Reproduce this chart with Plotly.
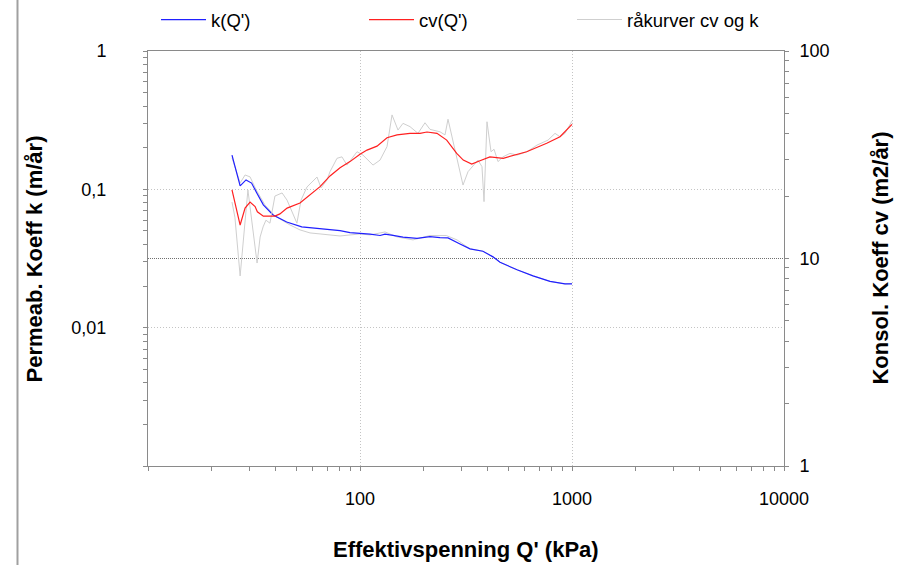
import plotly.graph_objects as go

# ---------------- data ----------------
k_Q = [24.9, 27.2, 29.0, 30.8, 32.6, 35.0, 38.9, 45.1, 53.1, 64.8, 72.2, 80.5, 89.7, 100, 111.5,
       124.3, 131.2, 143.1, 159.5, 185.7, 213.9, 238.4, 260.1, 296.3, 330.3, 380.0, 424.0,
       457.6, 550.5, 654.6, 787.5, 926.8, 1000]
k_val = [0.177, 0.106, 0.117, 0.111, 0.0942, 0.0772, 0.0653, 0.0581, 0.0535, 0.0517, 0.0513,
         0.0503, 0.0487, 0.0483, 0.0475, 0.0464, 0.0475, 0.0465, 0.0451, 0.0442, 0.0455, 0.0448,
         0.0446, 0.0403, 0.0371, 0.0357, 0.0325, 0.0297, 0.0262, 0.0237, 0.0216, 0.0207, 0.0207]

cv_Q = [24.9, 27.2, 28.7, 30.3, 32.0, 32.8, 35.0, 39.7, 41.9, 45.3, 52.1, 58.1, 64.8, 72.2, 80.5,
        89.7, 100, 107.9, 120.3, 134.1, 149.5, 172.1, 191.9, 207.0, 230.7, 256.4, 285.9, 307.0,
        336.5, 368.0, 410.0, 474.0, 528.0, 611.0, 760.0, 878.0, 1000]
cv_val = [21.4, 14.5, 17.5, 18.7, 17.8, 16.8, 16.0, 16.0, 16.4, 17.5, 18.5, 20.2, 22.2, 25.0, 27.4,
          29.3, 31.8, 33.3, 34.8, 38.2, 39.4, 40.1, 40.1, 40.7, 40.1, 37.2, 32.1, 29.8,
          28.5, 29.6, 30.9, 30.4, 31.3, 32.7, 35.9, 38.6, 44.3]

raw_cv_Q = [24.9, 25.7, 27.2, 29.6, 32.7, 33.8, 34.9, 36.0, 37.6, 39.7, 42.9, 45.3, 50.4, 52.7,
            56.2, 62.7, 65.5, 69.9, 72.2, 77.9, 82.2, 86.8, 96.8, 103.3, 115.2, 124.3, 134.1,
            141.6, 151.1, 159.5, 172.1, 187.7, 202.6, 213.9, 238.4, 251.7, 260.1, 271.6, 286.8,
            296.3, 306.1, 323.2, 337.6, 348.7, 360.2, 376.2, 384.6, 397.2, 414.9, 428.7, 447.7,
            472.7, 510.0, 550.5, 613.4, 683.8, 770.6, 831.6, 877.9, 926.8, 1000]
raw_cv_val = [18.7, 15.8, 8.24, 21.4, 9.51, 12.7, 14.2, 15.3, 14.8, 20.0, 20.7, 19.1, 14.8, 19.1,
              22.1, 24.7, 21.9, 23.9, 26.2, 30.4, 30.9, 28.2, 32.7, 31.5, 28.2, 29.8, 34.6,
              49.2, 41.6, 44.8, 43.2, 40.1, 45.1, 41.9, 40.8, 39.4, 46.9, 38.6, 29.8,
              26.2, 22.6, 26.2, 27.7, 28.8, 29.8, 27.7, 18.8, 45.6, 32.7, 33.6, 29.3,
              30.9, 32.1, 31.5, 32.7, 35.2, 37.2, 40.1, 38.6, 40.1, 46.0]

raw_k_Q = [24.9, 27.2, 28.7, 30.3, 32.4, 35.6, 39.7, 46.7, 52.1, 58.1, 64.8, 72.2, 80.5, 89.7, 100,
           111.5, 131.2, 149.5, 177.8, 213.9, 255.0, 286.8, 330.3, 380.0, 424.0, 457.6, 550.5,
           654.6, 787.5, 926.8, 1000]
raw_k_val = [0.169, 0.111, 0.127, 0.123, 0.099, 0.0772, 0.0642, 0.0553, 0.0509, 0.0484, 0.0476,
             0.0468, 0.046, 0.0468, 0.0476, 0.0468, 0.0492, 0.0453, 0.0431, 0.0464, 0.0464,
             0.0431, 0.0371, 0.0357, 0.0325, 0.0297, 0.0262, 0.0237, 0.0216, 0.0207, 0.0209]

x_major = [100, 1000, 10000]
x_major_text = ["100", "1000", "10000"]
k_major = [0.01, 0.1, 1]
k_major_text = ["0,01", "0,1", "1"]
cv_major = [1, 10, 100]
cv_major_text = ["1", "10", "100"]

names = ["k(Q')", "cv(Q')", "råkurver cv og k"]
x_title = "Effektivspenning Q' (kPa)"
k_title = "Permeab. Koeff k (m/år)"
cv_title = "Konsol. Koeff cv (m2/år)"

# ---------------- helpers ----------------
def decade_minors(lo_exp, hi_exp):
    out = []
    for e in range(lo_exp, hi_exp):
        for m in range(1, 10):
            out.append(m * 10 ** e)
    out.append(10 ** hi_exp)
    return out

x_all = decade_minors(1, 4)
k_all = decade_minors(-3, 0)
cv_all = decade_minors(0, 2)
x_minor = [v for v in x_all if v not in x_major]
k_minor = [v for v in k_all if v not in k_major]
cv_minor = [v for v in cv_all if v not in cv_major]

FONT = "Arial, 'Liberation Sans', sans-serif"
AX = "#8a8a8a"
GRID = "#c4c4c4"

fig = go.Figure()

fig.add_trace(go.Scatter(x=raw_k_Q, y=raw_k_val, mode="lines", yaxis="y",
                         line=dict(color="#cfcfcf", width=1), name=names[2],
                         legendgroup="raw", showlegend=False))
fig.add_trace(go.Scatter(x=raw_cv_Q, y=raw_cv_val, mode="lines", yaxis="y2",
                         line=dict(color="#cfcfcf", width=1), name=names[2],
                         legendgroup="raw", legendrank=3))
fig.add_trace(go.Scatter(x=k_Q, y=k_val, mode="lines", yaxis="y",
                         line=dict(color="#2020ff", width=1.2), name=names[0], legendrank=1))
fig.add_trace(go.Scatter(x=cv_Q, y=cv_val, mode="lines", yaxis="y2",
                         line=dict(color="#ff2020", width=1.2), name=names[1], legendrank=2))

tickfont = dict(family=FONT, size=18, color="black")

fig.update_layout(
    width=900, height=565,
    margin=dict(l=148, r=116, t=51, b=99, pad=0),
    paper_bgcolor="white", plot_bgcolor="white",
    font=dict(family=FONT, size=18, color="black"),
    xaxis=dict(type="log", range=[1, 4], tickvals=x_major, ticktext=x_major_text,
               ticks="outside", ticklen=4, tickcolor=AX, tickfont=tickfont,
               ticklabelstandoff=12,
               showline=True, linecolor=AX, linewidth=1, mirror=True,
               showgrid=True, gridcolor=GRID, griddash="1px,2px", gridwidth=1,
               zeroline=False, automargin=False,
               minor=dict(tickvals=x_minor, ticks="outside", ticklen=4, tickcolor=AX,
                          showgrid=False)),
    xaxis2=dict(type="log", range=[1, 4], overlaying="x", anchor="y", side="bottom",
                tickvals=x_all, ticks="inside", ticklen=4, tickcolor=AX,
                showticklabels=False, showline=False, mirror="ticks",
                showgrid=False, zeroline=False, automargin=False),
    yaxis=dict(type="log", range=[-3, 0], tickvals=k_major, ticktext=k_major_text,
               ticks="outside", ticklen=4, tickcolor=AX, tickfont=tickfont,
               ticklabelstandoff=33,
               showline=True, linecolor=AX, linewidth=1,
               showgrid=True, gridcolor=GRID, griddash="1px,2px", gridwidth=1,
               zeroline=False, automargin=False,
               minor=dict(tickvals=k_minor, ticks="outside", ticklen=4, tickcolor=AX,
                          showgrid=False)),
    yaxis3=dict(type="log", range=[-3, 0], overlaying="y", anchor="x", side="left",
                tickvals=k_all, ticks="inside", ticklen=4, tickcolor=AX,
                showticklabels=False, showline=False, showgrid=False,
                zeroline=False, automargin=False),
    yaxis2=dict(type="log", range=[0, 2], overlaying="y", anchor="x", side="right",
                tickvals=cv_major, ticktext=cv_major_text,
                ticks="outside", ticklen=4, tickcolor=AX, tickfont=tickfont,
                ticklabelstandoff=7,
                showline=True, linecolor=AX, linewidth=1,
                showgrid=True, gridcolor="#707070", griddash="1px,1px", gridwidth=1,
                zeroline=False, automargin=False,
                minor=dict(tickvals=cv_minor, ticks="outside", ticklen=4, tickcolor=AX,
                           showgrid=False)),
    yaxis4=dict(type="log", range=[0, 2], overlaying="y", anchor="x", side="right",
                tickvals=cv_all, ticks="inside", ticklen=4, tickcolor=AX,
                showticklabels=False, showline=False, showgrid=False,
                zeroline=False, automargin=False),
    legend=dict(orientation="h", xref="paper", x=0.0126, xanchor="left",
                yref="container", y=1 - 20 / 565, yanchor="middle",
                itemwidth=45, entrywidth=148, entrywidthmode="pixels",
                font=dict(family=FONT, size=18.5, color="black"),
                bgcolor="rgba(0,0,0,0)", traceorder="normal"),
    showlegend=True,
)

# axis titles
fig.add_annotation(text="<b>" + x_title + "</b>", xref="paper", yref="paper",
                   x=0.5, y=-0.2, xanchor="center", yanchor="middle", showarrow=False,
                   font=dict(family=FONT, size=22, color="black"))
fig.add_annotation(text="<b>" + k_title + "</b>", xref="paper", yref="paper",
                   x=-0.1777, y=0.5, xanchor="center", yanchor="middle", showarrow=False,
                   textangle=-90, font=dict(family=FONT, size=22, color="black"))
fig.add_annotation(text="<b>" + cv_title + "</b>", xref="paper", yref="paper",
                   x=1.151, y=0.5, xanchor="center", yanchor="middle", showarrow=False,
                   textangle=-90, font=dict(family=FONT, size=22, color="black"))

# left page border line
fig.add_shape(type="line", xref="paper", yref="paper", x0=-0.2052, x1=-0.2052,
              y0=-0.24, y1=1.125, line=dict(color="#a0a0a0", width=2))

fig.write_html("out.html")
